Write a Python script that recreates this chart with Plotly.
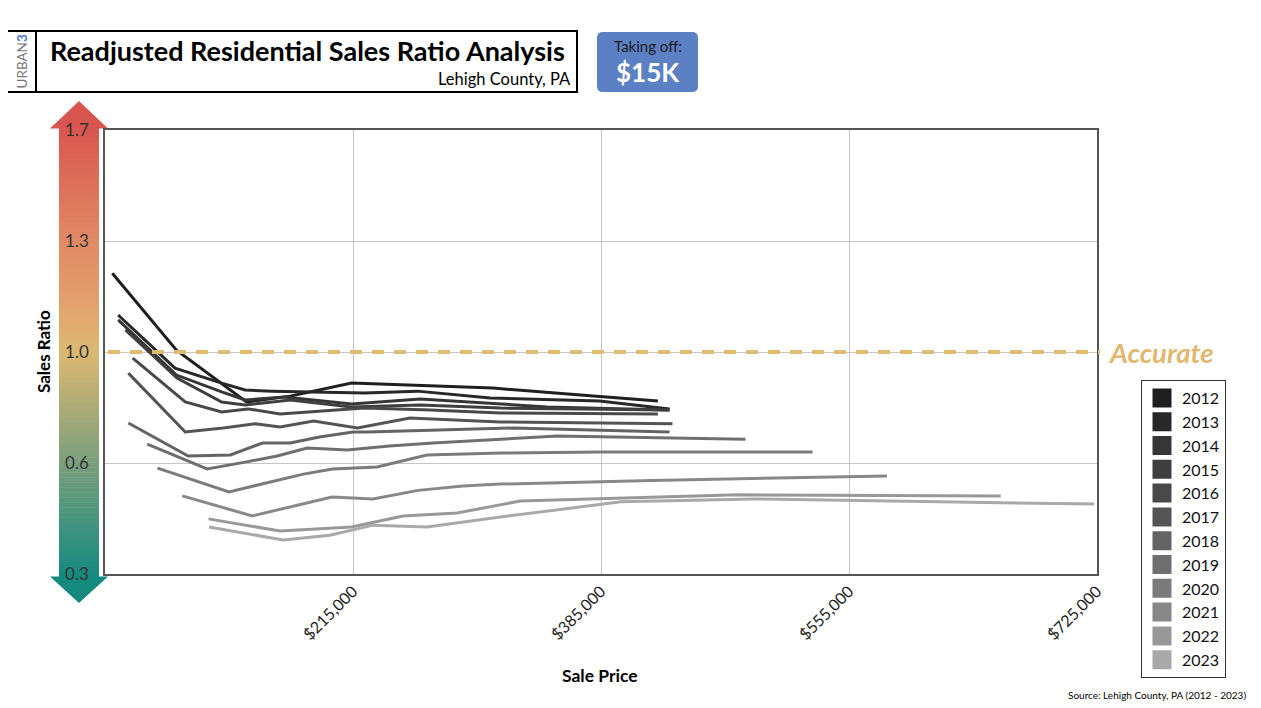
import numpy as np
import plotly.graph_objects as go

# ---------------- data ----------------
years = [2012, 2013, 2014, 2015, 2016, 2017, 2018, 2019, 2020, 2021, 2022, 2023]

price_2012 = [50000, 94000, 142000, 172000, 214000, 247000, 311000, 371000, 424000]
ratio_2012 = [1.213, 1.005, 0.820, 0.841, 0.888, 0.881, 0.870, 0.845, 0.823]

price_2013 = [54000, 93000, 125000, 141000, 159500, 187000, 223000, 259000, 309000, 384000, 432000]
ratio_2013 = [1.100, 0.942, 0.888, 0.863, 0.859, 0.856, 0.852, 0.859, 0.834, 0.823, 0.795]

price_2014 = [54000, 94000, 125000, 141000, 168000, 214000, 261000, 348000, 432000]
ratio_2014 = [1.087, 0.917, 0.856, 0.827, 0.838, 0.813, 0.831, 0.802, 0.791]

price_2015 = [59000, 94400, 125000, 141000, 172000, 214000, 261000, 316000, 432000]
ratio_2015 = [1.060, 0.906, 0.820, 0.809, 0.827, 0.802, 0.809, 0.798, 0.791]

price_2016 = [64000, 100000, 125000, 143000, 165000, 191000, 223000, 268000, 316000, 424000]
ratio_2016 = [0.978, 0.820, 0.784, 0.795, 0.777, 0.787, 0.798, 0.791, 0.780, 0.777]

price_2017 = [61000, 100000, 126000, 148000, 165000, 188000, 218000, 254000, 316000, 434000]
ratio_2017 = [0.924, 0.712, 0.726, 0.741, 0.730, 0.751, 0.726, 0.762, 0.748, 0.741]

price_2018 = [61000, 102000, 131000, 153000, 172000, 192000, 215000, 225000, 325000, 432000]
ratio_2018 = [0.744, 0.625, 0.629, 0.672, 0.672, 0.694, 0.712, 0.712, 0.726, 0.712]

price_2019 = [74000, 115000, 142000, 163000, 183500, 211000, 240000, 270000, 355000, 484000]
ratio_2019 = [0.668, 0.584, 0.604, 0.625, 0.654, 0.647, 0.661, 0.672, 0.697, 0.686]

price_2020 = [81000, 130000, 181000, 201000, 231500, 265700, 316000, 384000, 530000]
ratio_2020 = [0.586, 0.522, 0.570, 0.584, 0.589, 0.629, 0.636, 0.640, 0.640]

price_2021 = [98000, 146000, 200600, 228700, 259600, 290400, 316000, 420000, 581000]
ratio_2021 = [0.511, 0.457, 0.508, 0.503, 0.526, 0.538, 0.543, 0.553, 0.565]

price_2022 = [116000, 165000, 214000, 249300, 286300, 329500, 479000, 659000]
ratio_2022 = [0.449, 0.416, 0.427, 0.457, 0.465, 0.497, 0.514, 0.511]

price_2023 = [116300, 167000, 199200, 228700, 265700, 316000, 398700, 489900, 723000]
ratio_2023 = [0.427, 0.392, 0.405, 0.432, 0.427, 0.454, 0.495, 0.503, 0.489]

ratio_ticks = [0.3, 0.6, 1.0, 1.3, 1.7]
ratio_tick_text = ["0.3", "0.6", "1.0", "1.3", "1.7"]
price_ticks = [215000, 385000, 555000, 725000]
price_tick_text = ["$215,000", "$385,000", "$555,000", "$725,000"]
accurate_ratio = 1.0

series = {
    2012: (price_2012, ratio_2012), 2013: (price_2013, ratio_2013),
    2014: (price_2014, ratio_2014), 2015: (price_2015, ratio_2015),
    2016: (price_2016, ratio_2016), 2017: (price_2017, ratio_2017),
    2018: (price_2018, ratio_2018), 2019: (price_2019, ratio_2019),
    2020: (price_2020, ratio_2020), 2021: (price_2021, ratio_2021),
    2022: (price_2022, ratio_2022), 2023: (price_2023, ratio_2023),
}

# ---------------- styling ----------------
colors = ["#1f1f1f", "#282828", "#363636", "#3f3f3f", "#494949", "#545454",
          "#646464", "#6f6f6f", "#7b7b7b", "#888888", "#989898", "#a9a9a9"]
FONT = "Lato, 'Open Sans', sans-serif"
OFF = 8                      # page body margin in the browser
W, H = 1261 - OFF, 708 - OFF
ML, MT = 105 - OFF, 130 - OFF
MR = W - (1097 - OFF)
MB = H - (574 - OFF)
PW, PH = W - ML - MR, H - MT - MB


def pxx(x):
    """screen x (px) -> paper x"""
    return (x - OFF - ML) / PW


def pyy(y):
    """screen y (px) -> paper y"""
    return (H - MB - (y - OFF)) / PH


# the reference's ratio axis is piecewise: equal spacing between its ticks
tick_pos = list(range(len(ratio_ticks)))


def to_axis(r):
    return np.interp(r, ratio_ticks, tick_pos)


fig = go.Figure()
for i, yr in enumerate(years):
    xs, rs = series[yr]
    fig.add_trace(go.Scatter(
        x=xs, y=to_axis(rs), mode="lines", name=str(yr), legendgroup=str(yr),
        showlegend=False, line=dict(color=colors[i], width=3),
        hovertemplate="%{x:$,.0f}<extra>" + str(yr) + "</extra>"))
for i, yr in enumerate(years):
    fig.add_trace(go.Scatter(
        x=[None], y=[None], mode="markers", name=str(yr), legendgroup=str(yr),
        marker=dict(symbol="square", size=16, color=colors[i],
                    line=dict(color=colors[i], width=3))))

shapes = []
# outer frame
shapes.append(dict(type="rect", xref="paper", yref="paper", x0=pxx(7), x1=pxx(1255),
                   y0=pyy(712), y1=pyy(5), line=dict(color="#000", width=2), layer="below"))
# title box + divider
shapes.append(dict(type="rect", xref="paper", yref="paper", x0=pxx(7), x1=pxx(577),
                   y0=pyy(92), y1=pyy(31), line=dict(color="#000", width=2)))
shapes.append(dict(type="line", xref="paper", yref="paper", x0=pxx(36), x1=pxx(36),
                   y0=pyy(92), y1=pyy(31), line=dict(color="#000", width=2)))
# blue rounded box
bx0, bx1, by0, by1, rr = 597, 698, 32, 92, 6


def P(x, y):
    return f"{pxx(x):.5f},{pyy(y):.5f}"


path = (f"M {P(bx0 + rr, by0)} L {P(bx1 - rr, by0)} Q {P(bx1, by0)} {P(bx1, by0 + rr)} "
        f"L {P(bx1, by1 - rr)} Q {P(bx1, by1)} {P(bx1 - rr, by1)} "
        f"L {P(bx0 + rr, by1)} Q {P(bx0, by1)} {P(bx0, by1 - rr)} "
        f"L {P(bx0, by0 + rr)} Q {P(bx0, by0)} {P(bx0 + rr, by0)} Z")
shapes.append(dict(type="path", xref="paper", yref="paper", path=path,
                   fillcolor="#5b80c4", line=dict(width=0)))

# gradient arrow
stops_y = [128, 241, 300, 352, 410, 463, 577]
stops_c = [(217, 86, 80), (224, 138, 101), (226, 160, 110), (220, 185, 114),
           (170, 170, 120), (122, 158, 124), (20, 138, 127)]
n = 90
ys = np.linspace(128, 577, n + 1)
for k in range(n):
    ym = 0.5 * (ys[k] + ys[k + 1])
    c = [int(round(np.interp(ym, stops_y, [s[j] for s in stops_c]))) for j in range(3)]
    shapes.append(dict(type="rect", xref="paper", yref="paper", x0=pxx(59), x1=pxx(99),
                       y0=pyy(ys[k + 1] + 0.6), y1=pyy(ys[k]), layer="below",
                       fillcolor=f"rgb({c[0]},{c[1]},{c[2]})", line=dict(width=0)))
shapes.append(dict(type="path", xref="paper", yref="paper", layer="below",
                   path=f"M {P(50, 128.5)} L {P(108, 128.5)} L {P(79, 101)} Z",
                   fillcolor="rgb(217,86,80)", line=dict(width=0)))
shapes.append(dict(type="path", xref="paper", yref="paper", layer="below",
                   path=f"M {P(50, 576.5)} L {P(108, 576.5)} L {P(79, 603)} Z",
                   fillcolor="rgb(20,138,127)", line=dict(width=0)))
# accurate line
acc = float(to_axis(accurate_ratio))
shapes.append(dict(type="line", xref="paper", yref="y", x0=pxx(108), x1=pxx(1100),
                   y0=acc, y1=acc, line=dict(color="#e1bb70", width=4, dash="12px,10px")))


def ann(x, y, text, size, color="#000", xanchor="center", yanchor="middle", **kw):
    d = dict(x=x, y=y, xref="paper", yref="paper", text=text, showarrow=False,
             xanchor=xanchor, yanchor=yanchor,
             font=dict(family=FONT, size=size, color=color))
    d.update(kw)
    return d


annotations = [
    ann(pxx(21.5), pyy(62), "URBAN<span style='color:#4a7bd0'><b>3</b></span>", 13.5,
        "#777", textangle=-90),
    ann(pxx(48), pyy(51), "<b>Readjusted Residential Sales Ratio Analysis</b>", 27,
        xanchor="left"),
    ann(pxx(573), pyy(79), "Lehigh County, PA", 16.5, xanchor="right"),
    ann(pxx(647.5), pyy(46), "Taking off:", 15, "#1a1a1a"),
    ann(pxx(647.5), pyy(72), "<b>$15K</b>", 26, "#fff"),
    ann(pxx(1106), acc, "<i><b>Accurate</b></i>", 27.5, "#e0b870", xanchor="left", yref="y"),
    ann(pxx(43), pyy(352), "<b>Sales Ratio</b>", 17, textangle=-90),
    ann(pxx(600), pyy(675), "<b>Sale Price</b>", 17.5),
    ann(pxx(1248), pyy(695), "Source: Lehigh County, PA (2012 - 2023)", 10, xanchor="right"),
]

fig.update_layout(
    width=W, height=H, margin=dict(l=ML, r=MR, t=MT, b=MB),
    paper_bgcolor="#fff", plot_bgcolor="rgba(0,0,0,0)",
    font=dict(family=FONT, color="#222"),
    shapes=shapes, annotations=annotations,
    legend=dict(x=pxx(1141), y=pyy(380), xanchor="left", yanchor="top",
                bordercolor="#333", borderwidth=1, bgcolor="#fff",
                font=dict(family=FONT, size=16, color="#111"), tracegroupgap=0),
    xaxis=dict(range=[45000, 725000], tickvals=price_ticks, ticktext=price_tick_text,
               tickangle=-45, tickfont=dict(family=FONT, size=16, color="#222"),
               showgrid=True, gridcolor="#c6c6c6", gridwidth=1, zeroline=False,
               showline=True, linecolor="#555", linewidth=1.5, mirror=True,
               ticks="", fixedrange=True),
    yaxis=dict(range=[0, 4], tickvals=tick_pos, ticktext=ratio_tick_text,
               tickfont=dict(family=FONT, size=17, color="#333"), ticklabelstandoff=11,
               showgrid=True, gridcolor="#c6c6c6", gridwidth=1, zeroline=False,
               showline=True, linecolor="#555", linewidth=1.5, mirror=True,
               ticks="", fixedrange=True),
)

fig.write_html("out.html")
